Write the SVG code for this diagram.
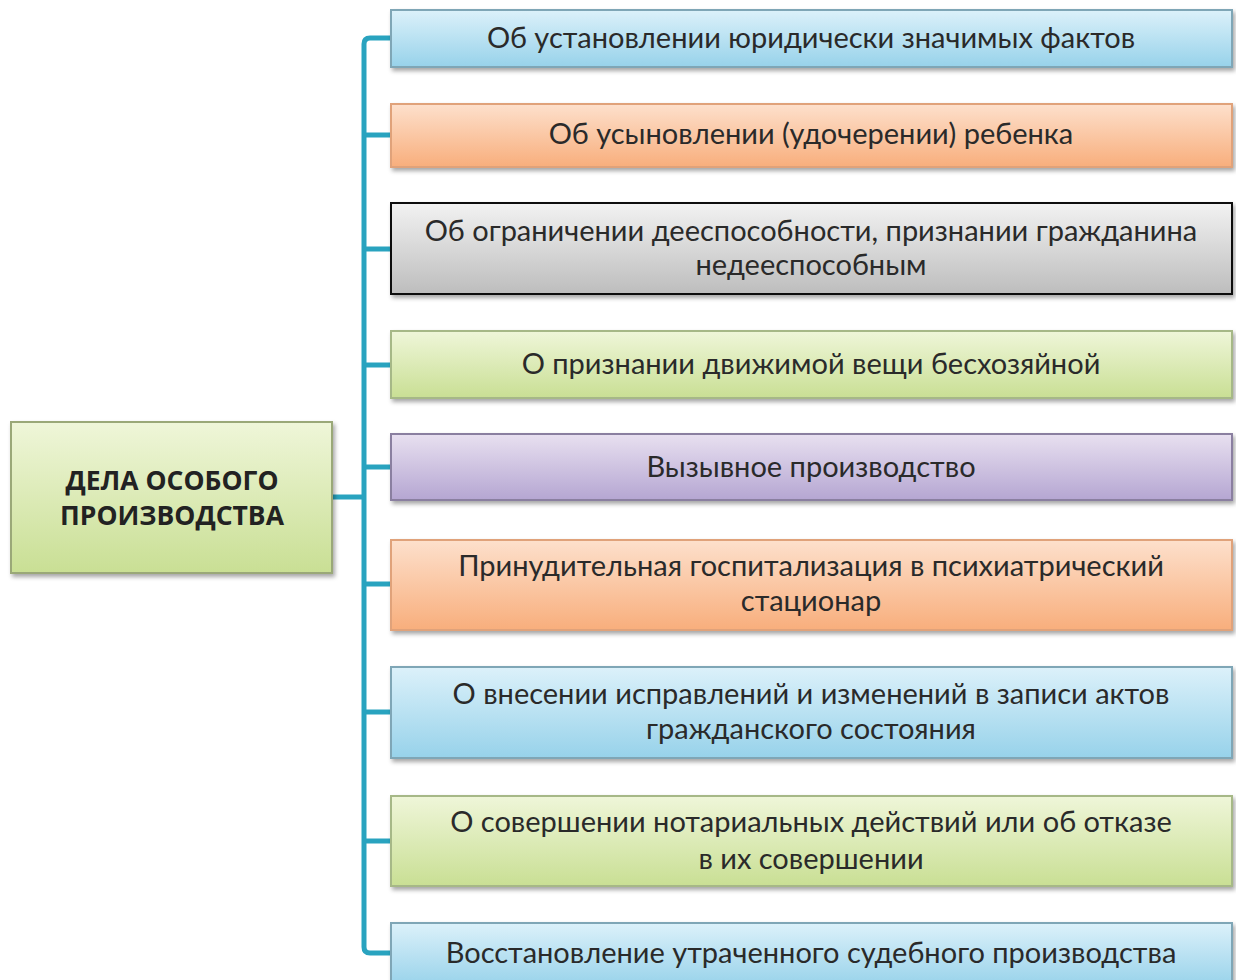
<svg xmlns="http://www.w3.org/2000/svg" width="1236" height="980" viewBox="0 0 1236 980">
<defs>
<linearGradient id="gBlue" x1="0" y1="0" x2="0" y2="1"><stop offset="0" stop-color="#dcf1fa"/><stop offset="1" stop-color="#97d2ea"/></linearGradient>
<linearGradient id="gOrange" x1="0" y1="0" x2="0" y2="1"><stop offset="0" stop-color="#fde0cc"/><stop offset="1" stop-color="#f8ae7c"/></linearGradient>
<linearGradient id="gGray" x1="0" y1="0" x2="0" y2="1"><stop offset="0" stop-color="#f2f2f2"/><stop offset="1" stop-color="#bdbdbd"/></linearGradient>
<linearGradient id="gGreen" x1="0" y1="0" x2="0" y2="1"><stop offset="0" stop-color="#eff6d9"/><stop offset="1" stop-color="#c9df94"/></linearGradient>
<linearGradient id="gPurple" x1="0" y1="0" x2="0" y2="1"><stop offset="0" stop-color="#e8e0f0"/><stop offset="1" stop-color="#b5a6d2"/></linearGradient>
<filter id="sh" x="-5%" y="-10%" width="110%" height="130%"><feDropShadow dx="2" dy="3" stdDeviation="2" flood-color="#000" flood-opacity="0.35"/></filter>
</defs>
<style>
.box{stroke-width:2;filter:url(#sh)}
.t{font-family:Lato,"Open Sans",sans-serif;font-size:29px;fill:#2a2a2a;text-anchor:middle}
.tb{font-family:"Open Sans",sans-serif;font-size:26.5px;font-weight:bold;fill:#222;text-anchor:middle}
.c{fill:none;stroke:#29a3bf;stroke-width:5}
</style>
<g id="connectors">
<path class="c" d="M391,38 H370 Q364,38 364,44 V947 Q364,953 370,953 H391"/>
<path class="c" d="M332,497 H364"/>
<path class="c" d="M364,135 H391"/>
<path class="c" d="M364,249 H391"/>
<path class="c" d="M364,365 H391"/>
<path class="c" d="M364,467 H391"/>
<path class="c" d="M364,584 H391"/>
<path class="c" d="M364,712 H391"/>
<path class="c" d="M364,841 H391"/>
</g>
<g id="root">
<rect class="box" x="11" y="422" width="321" height="151" fill="url(#gGreen)" stroke="#9aa878"/>
<text class="tb" x="172" y="490">ДЕЛА ОСОБОГО</text>
<text class="tb" x="172" y="525">ПРОИЗВОДСТВА</text>
</g>
<g id="n1">
<rect class="box" x="391" y="10" width="841" height="57" fill="url(#gBlue)" stroke="#7fa6b6"/>
<text class="t" x="811" y="48">Об установлении юридически значимых фактов</text>
</g>
<g id="n2">
<rect class="box" x="391" y="104" width="841" height="63" fill="url(#gOrange)" stroke="#e0a27a"/>
<text class="t" x="811" y="144">Об усыновлении (удочерении) ребенка</text>
</g>
<g id="n3">
<rect class="box" x="391" y="203" width="841" height="91" fill="url(#gGray)" stroke="#111"/>
<text class="t" x="811" y="241">Об ограничении дееспособности, признании гражданина</text>
<text class="t" x="811" y="275">недееспособным</text>
</g>
<g id="n4">
<rect class="box" x="391" y="331" width="841" height="67" fill="url(#gGreen)" stroke="#a6b887"/>
<text class="t" x="811" y="374">О признании движимой вещи бесхозяйной</text>
</g>
<g id="n5">
<rect class="box" x="391" y="434" width="841" height="66" fill="url(#gPurple)" stroke="#8a7fa0"/>
<text class="t" x="811" y="477">Вызывное производство</text>
</g>
<g id="n6">
<rect class="box" x="391" y="540" width="841" height="90" fill="url(#gOrange)" stroke="#e0a27a"/>
<text class="t" x="811" y="576">Принудительная госпитализация в психиатрический</text>
<text class="t" x="811" y="611">стационар</text>
</g>
<g id="n7">
<rect class="box" x="391" y="667" width="841" height="91" fill="url(#gBlue)" stroke="#7fa6b6"/>
<text class="t" x="811" y="704">О внесении исправлений и изменений в записи актов</text>
<text class="t" x="811" y="739">гражданского состояния</text>
</g>
<g id="n8">
<rect class="box" x="391" y="796" width="841" height="90" fill="url(#gGreen)" stroke="#a6b887"/>
<text class="t" x="811" y="832">О совершении нотариальных действий или об отказе</text>
<text class="t" x="811" y="869">в их совершении</text>
</g>
<g id="n9">
<rect class="box" x="391" y="923" width="841" height="64" fill="url(#gBlue)" stroke="#7fa6b6"/>
<text class="t" x="811" y="963">Восстановление утраченного судебного производства</text>
</g>
</svg>
